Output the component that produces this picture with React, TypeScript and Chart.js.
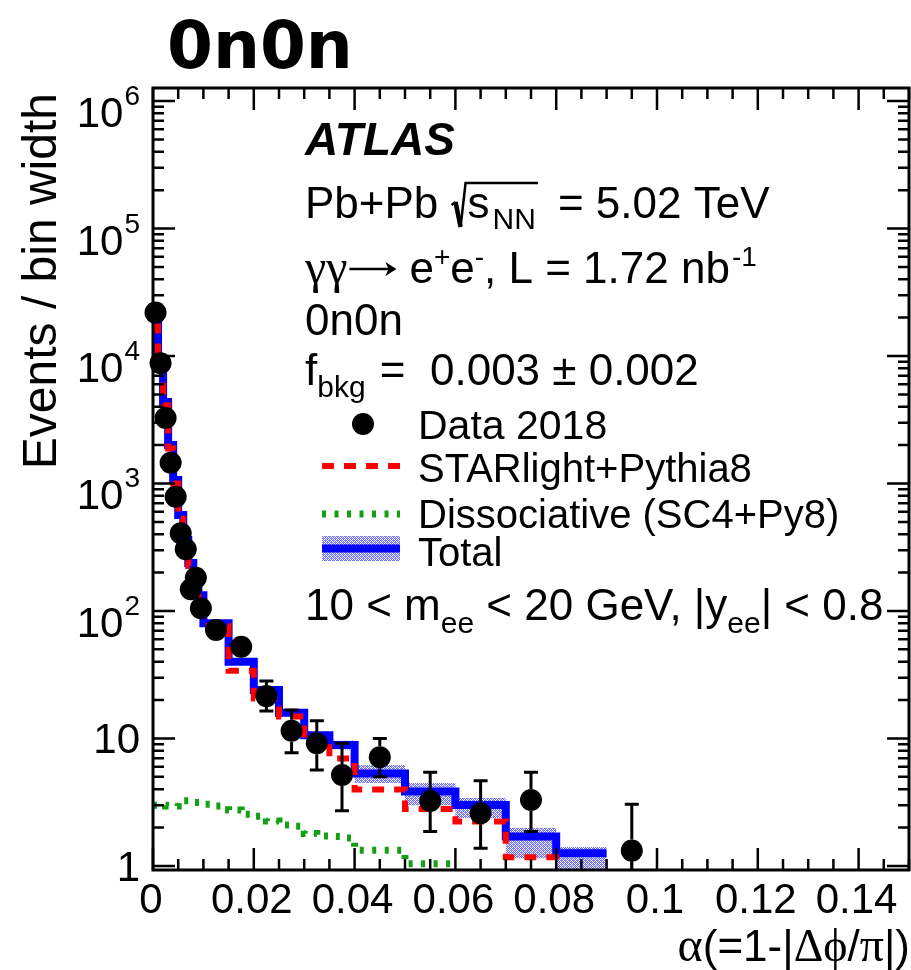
import React, { useEffect, useRef } from 'react';
import { Chart, registerables } from 'chart.js';

Chart.register(...registerables);

// ---------------- data ----------------
const binEdges = [0, 0.001, 0.002, 0.003, 0.004, 0.005, 0.006, 0.007, 0.008, 0.009, 0.01, 0.015, 0.02, 0.025, 0.03, 0.035, 0.04, 0.05, 0.06, 0.07, 0.08, 0.09];
const totalValues = [18000, 9300, 4360, 2000, 1065, 566, 360, 238, 160, 133, 80, 40, 24, 15.9, 10.6, 8.9, 5.31, 3.84, 3.01, 1.7, 1.26];
const totalBandLow = [17300, 8900, 4180, 1910, 1015, 540, 343, 226, 152, 126, 76, 37.8, 22.6, 14.9, 9.9, 8.2, 4.48, 3.0, 2.38, 1.15, 0.9];
const totalBandHigh = [18700, 9700, 4540, 2090, 1115, 592, 377, 250, 168, 140, 84, 42.2, 25.4, 16.9, 11.3, 9.6, 6.2, 4.48, 3.41, 1.99, 1.41];
const starlightValues = [17000, 8700, 4100, 1880, 1000, 530, 340, 225, 150, 125, 76, 34, 20.6, 14.9, 9.5, 6.97, 3.98, 2.8, 2.23, 1.17, 0.8];

const dissocEdges = [0, 0.0025, 0.005, 0.0075, 0.01, 0.0125, 0.015, 0.0175, 0.02, 0.0225, 0.025, 0.0275, 0.03, 0.0325, 0.035, 0.0375, 0.04, 0.05, 0.06];
const dissocValues = [3.0, 2.95, 3.25, 3.15, 3.05, 2.95, 2.75, 2.55, 2.45, 2.25, 2.1, 2.05, 1.8, 1.72, 1.7, 1.66, 1.33, 1.04];

const dataX = [0.0005, 0.0015, 0.0025, 0.0035, 0.0045, 0.0055, 0.0065, 0.0075, 0.0085, 0.0095, 0.0125, 0.0175, 0.0225, 0.0275, 0.0325, 0.0375, 0.045, 0.055, 0.065, 0.075, 0.095];
const dataY = [21900, 8770, 3260, 1455, 788, 407, 305, 148, 182, 105, 71, 52.5, 21.5, 11.5, 9.17, 5.17, 7.12, 3.23, 2.59, 3.29, 1.32];
const dataLow = [21750, 8680, 3200, 1415, 760, 387, 288, 136, 169, 95, 63, 45, 16.4, 7.74, 5.66, 2.71, 5.02, 1.86, 1.38, 1.86, 0.3];
const dataHigh = [22050, 8860, 3320, 1495, 816, 427, 322, 160, 195, 115, 79, 60, 28.3, 16.7, 13.8, 9.17, 10.0, 5.43, 4.67, 5.43, 3.05];

const xMajorTicks = [0, 0.02, 0.04, 0.06, 0.08, 0.1, 0.12, 0.14];
const xTickLabels = ['0', '0.02', '0.04', '0.06', '0.08', '0.1', '0.12', '0.14'];
const xMinorStep = 0.005;
const yDecades = [0, 1, 2, 3, 4, 5, 6];
const yTickLabels = ['1', '10', '10^2', '10^3', '10^4', '10^5', '10^6'];

const X_MIN = 0;
const X_MAX = 0.15;
const Y_MIN = 0.93;
const Y_MAX = 1.265e6;

const FONT = '"Liberation Sans", Arial, sans-serif';
const SERIF = '"Liberation Serif", "Times New Roman", serif';

function stepPoints(edges: number[], values: number[]) {
  const pts: { x: number; y: number }[] = [];
  for (let i = 0; i < values.length; i++) {
    pts.push({ x: edges[i], y: values[i] });
    pts.push({ x: edges[i + 1], y: values[i] });
  }
  return pts;
}

function makeHatch(): CanvasPattern | string {
  const c = document.createElement('canvas');
  c.width = 4;
  c.height = 4;
  const g = c.getContext('2d');
  if (!g) return 'rgba(120,120,255,0.6)';
  g.fillStyle = '#ffffff';
  g.fillRect(0, 0, 4, 4);
  g.fillStyle = '#6a6aff';
  g.fillRect(0, 0, 1, 1);
  g.fillRect(2, 0, 1, 1);
  g.fillRect(1, 1, 1, 1);
  g.fillRect(3, 1, 1, 1);
  g.fillRect(0, 2, 1, 1);
  g.fillRect(2, 2, 1, 1);
  g.fillRect(1, 3, 1, 1);
  g.fillRect(3, 3, 1, 1);
  g.fillStyle = '#9c9cff';
  g.fillRect(1, 0, 1, 1);
  g.fillRect(3, 2, 1, 1);
  const p = g.createPattern(c, 'repeat');
  return p || 'rgba(120,120,255,0.6)';
}

type Seg = { t: string; size?: number; dy?: number; style?: string; font?: string; gap?: number };

function drawRich(ctx: CanvasRenderingContext2D, x: number, y: number, segs: Seg[], base = 44) {
  let cx = x;
  for (const s of segs) {
    cx += s.gap ?? 0;
    if (!s.t) continue;
    const size = s.size ?? base;
    ctx.font = `${s.style ?? ''} ${size}px ${s.font ?? FONT}`;
    ctx.fillText(s.t, cx, y + (s.dy ?? 0));
    cx += ctx.measureText(s.t).width;
  }
  return cx;
}

export default function App() {
  const ref = useRef<HTMLCanvasElement | null>(null);

  useEffect(() => {
    const canvas = ref.current;
    if (!canvas) return;
    const hatch = makeHatch();
    const DATA_INDEX = 0;

    const errorBars = {
      id: 'errorBars',
      beforeDatasetDraw(chart: any, args: any) {
        if (args.index !== DATA_INDEX) return;
        const ctx: CanvasRenderingContext2D = chart.ctx;
        const xs = chart.scales.x;
        const ys = chart.scales.y;
        const area = chart.chartArea;
        const r = 11;
        ctx.save();
        ctx.beginPath();
        ctx.rect(area.left, area.top, area.right - area.left, area.bottom - area.top);
        ctx.clip();
        ctx.strokeStyle = '#000';
        ctx.lineWidth = 3;
        for (let i = 0; i < dataX.length; i++) {
          const px = xs.getPixelForValue(dataX[i]);
          const py = ys.getPixelForValue(dataY[i]);
          const pHi = ys.getPixelForValue(dataHigh[i]);
          const pLo = ys.getPixelForValue(Math.max(dataLow[i], 1e-3));
          ctx.beginPath();
          if (pHi < py - r) {
            ctx.moveTo(px, py - r);
            ctx.lineTo(px, pHi);
            ctx.moveTo(px - 7, pHi);
            ctx.lineTo(px + 7, pHi);
          }
          if (pLo > py + r) {
            ctx.moveTo(px, py + r);
            ctx.lineTo(px, pLo);
            ctx.moveTo(px - 7, pLo);
            ctx.lineTo(px + 7, pLo);
          }
          ctx.stroke();
        }
        ctx.restore();
      },
    };

    const frameAndText = {
      id: 'frameAndText',
      afterDraw(chart: any) {
        const ctx: CanvasRenderingContext2D = chart.ctx;
        const xs = chart.scales.x;
        const ys = chart.scales.y;
        const a = chart.chartArea;
        ctx.save();
        ctx.strokeStyle = '#000';
        ctx.fillStyle = '#000';
        // frame
        ctx.lineWidth = 3;
        ctx.strokeRect(a.left, a.top, a.right - a.left, a.bottom - a.top);
        // x ticks
        ctx.lineWidth = 2.5;
        ctx.beginPath();
        const nMinor = Math.round((X_MAX - X_MIN) / xMinorStep);
        for (let i = 0; i <= nMinor; i++) {
          const v = X_MIN + i * xMinorStep;
          const isMajor = Math.abs(v / 0.02 - Math.round(v / 0.02)) < 1e-6;
          const len = isMajor ? 22 : 11;
          const px = xs.getPixelForValue(v);
          ctx.moveTo(px, a.bottom);
          ctx.lineTo(px, a.bottom - len);
          ctx.moveTo(px, a.top);
          ctx.lineTo(px, a.top + len);
        }
        // y ticks
        for (const k of yDecades) {
          for (let m = 1; m <= 9; m++) {
            const v = m * Math.pow(10, k);
            if (v < Y_MIN || v > Y_MAX) continue;
            const len = m === 1 ? 22 : 11;
            const py = ys.getPixelForValue(v);
            ctx.moveTo(a.left, py);
            ctx.lineTo(a.left + len, py);
            ctx.moveTo(a.right, py);
            ctx.lineTo(a.right - len, py);
          }
        }
        ctx.stroke();

        // x tick labels
        ctx.font = `42px ${FONT}`;
        ctx.textAlign = 'center';
        ctx.textBaseline = 'alphabetic';
        xMajorTicks.forEach((v, i) => {
          ctx.fillText(xTickLabels[i], xs.getPixelForValue(v) - 2, 913);
        });

        // y tick labels
        ctx.textAlign = 'left';
        yDecades.forEach((k, i) => {
          const py = ys.getPixelForValue(Math.pow(10, k));
          const lab = yTickLabels[i];
          const right = 140;
          if (lab.indexOf('^') < 0) {
            ctx.font = `42px ${FONT}`;
            const w = ctx.measureText(lab).width;
            ctx.fillText(lab, right - w, py + 15);
          } else {
            const [b, e] = lab.split('^');
            ctx.font = `28px ${FONT}`;
            const we = ctx.measureText(e).width;
            ctx.font = `42px ${FONT}`;
            const wb = ctx.measureText(b).width;
            ctx.fillText(b, right - we - wb - 1, py + 26);
            ctx.font = `28px ${FONT}`;
            ctx.fillText(e, right - we, py + 4);
          }
        });

        // axis titles
        ctx.save();
        ctx.font = `48px ${FONT}`;
        ctx.translate(56, 93);
        ctx.rotate(-Math.PI / 2);
        ctx.textAlign = 'right';
        ctx.fillText('Events / bin width', 0, 0);
        ctx.restore();

        ctx.textAlign = 'left';
        {
          const segs: Seg[] = [
            { t: '\u03b1', font: SERIF, size: 48 },
            { t: '(=1-|' },
            { t: '\u0394', font: SERIF, size: 46 },
            { t: '\u03d5', font: SERIF, size: 46 },
            { t: '/' },
            { t: '\u03c0', font: SERIF, size: 48 },
            { t: '|)' },
          ];
          let w = 0;
          for (const s of segs) {
            ctx.font = `${s.size ?? 44}px ${s.font ?? FONT}`;
            w += ctx.measureText(s.t).width;
          }
          drawRich(ctx, 910 - w, 961, segs, 44);
        }

        // big title
        ctx.textAlign = 'left';
        ctx.font = `bold 66px "DejaVu Sans", sans-serif`;
        ctx.fillText('0n0n', 167, 68);

        // text block
        const tx = 305;
        ctx.font = `italic bold 46px ${FONT}`;
        ctx.fillText('ATLAS', tx, 155);

        const by = 218;
        const cx = drawRich(ctx, tx, by, [{ t: 'Pb+Pb ' }]);
        // sqrt sign
        ctx.lineWidth = 2.5;
        ctx.beginPath();
        ctx.moveTo(cx + 1, by - 13);
        ctx.lineTo(cx + 5, by - 16);
        ctx.stroke();
        ctx.lineWidth = 4.5;
        ctx.beginPath();
        ctx.moveTo(cx + 5, by - 16);
        ctx.lineTo(cx + 10, by + 9);
        ctx.stroke();
        ctx.lineWidth = 2.5;
        ctx.beginPath();
        ctx.moveTo(cx + 10, by + 9);
        ctx.lineTo(cx + 15, by - 35);
        const sEnd = drawRich(ctx, cx + 17, by, [{ t: 's' }, { t: 'NN', size: 30, dy: 11, gap: 3 }]);
        ctx.lineTo(sEnd + 2, by - 35);
        ctx.stroke();
        drawRich(ctx, sEnd, by, [{ t: '= 5.02 TeV', gap: 22 }]);

        // gamma gamma line with a long arrow
        const gy = 283;
        let gx = drawRich(ctx, tx, gy, [{ t: '\u03b3\u03b3', font: SERIF, size: 48 }]);
        ctx.lineWidth = 2.5;
        ctx.beginPath();
        ctx.moveTo(gx + 2, gy - 14);
        ctx.lineTo(gx + 47, gy - 14);
        ctx.stroke();
        ctx.beginPath();
        ctx.moveTo(gx + 49, gy - 14);
        ctx.lineTo(gx + 38, gy - 21);
        ctx.lineTo(gx + 41, gy - 14);
        ctx.lineTo(gx + 38, gy - 7);
        ctx.closePath();
        ctx.fill();
        gx += 50;
        drawRich(ctx, gx, gy, [
          { t: 'e', gap: 12 },
          { t: '+', size: 28, dy: -17 },
          { t: 'e' },
          { t: '-', size: 28, dy: -17 },
          { t: ', L = 1.72 nb' },
          { t: '-1', size: 28, dy: -17, gap: 2 },
        ]);
        drawRich(ctx, tx, 335, [{ t: '0n0n' }]);
        drawRich(ctx, tx, 385, [
          { t: 'f' },
          { t: 'bkg', size: 30, dy: 12 },
          { t: ' =  0.003 \u00b1 0.002', gap: 2 },
        ]);

        // legend
        const lx0 = 322;
        const lx1 = 400;
        const ltx = 418;
        ctx.beginPath();
        ctx.arc(363, 424, 11, 0, Math.PI * 2);
        ctx.fill();
        drawRich(ctx, ltx, 439, [{ t: 'Data 2018' }], 41);

        ctx.save();
        ctx.strokeStyle = '#ff0000';
        ctx.lineWidth = 6;
        ctx.setLineDash([12, 10]);
        ctx.beginPath();
        ctx.moveTo(lx0, 466);
        ctx.lineTo(lx1, 466);
        ctx.stroke();
        ctx.strokeStyle = '#11a011';
        ctx.lineWidth = 7;
        ctx.setLineDash([4, 8.5]);
        ctx.beginPath();
        ctx.moveTo(lx0, 514);
        ctx.lineTo(lx1, 514);
        ctx.stroke();
        ctx.setLineDash([]);
        ctx.fillStyle = hatch as any;
        ctx.fillRect(lx0, 536, lx1 - lx0, 25);
        ctx.strokeStyle = '#0000ff';
        ctx.lineWidth = 8;
        ctx.beginPath();
        ctx.moveTo(lx0, 548.5);
        ctx.lineTo(lx1, 548.5);
        ctx.stroke();
        ctx.restore();
        ctx.fillStyle = '#000';
        drawRich(ctx, ltx, 482, [{ t: 'STARlight+Pythia8' }], 40);
        drawRich(ctx, ltx, 528, [{ t: 'Dissociative (SC4+Py8)' }], 40);
        drawRich(ctx, ltx, 566, [{ t: 'Total' }], 40);

        drawRich(ctx, tx, 620, [
          { t: '10 < m' },
          { t: 'ee', size: 30, dy: 13 },
          { t: ' < 20 GeV, |y' },
          { t: 'ee', size: 30, dy: 13 },
          { t: '| < 0.8' },
        ]);
        ctx.restore();
      },
    };

    const chart = new Chart(canvas, {
      type: 'line',
      data: {
        datasets: [
          {
            label: 'Data 2018',
            data: dataX.map((x, i) => ({ x, y: dataY[i] })),
            showLine: false,
            pointRadius: 11,
            pointHoverRadius: 11,
            pointBackgroundColor: '#000',
            pointBorderColor: '#000',
            pointBorderWidth: 0,
            borderColor: '#000',
            backgroundColor: '#000',
            clip: false as any,
            order: 0,
          },
          {
            label: 'STARlight+Pythia8',
            data: stepPoints(binEdges, starlightValues),
            borderColor: '#ff0000',
            borderWidth: 6,
            borderDash: [12, 10],
            borderCapStyle: 'butt',
            borderJoinStyle: 'miter',
            pointRadius: 0,
            fill: false,
            tension: 0,
            clip: 0 as any,
            order: 1,
          },
          {
            label: 'Dissociative (SC4+Py8)',
            data: stepPoints(dissocEdges, dissocValues),
            borderColor: '#11a011',
            borderWidth: 7,
            borderDash: [4, 8.5],
            borderCapStyle: 'butt',
            pointRadius: 0,
            fill: false,
            tension: 0,
            clip: 0 as any,
            order: 2,
          },
          {
            label: 'Total',
            data: stepPoints(binEdges, totalValues),
            borderColor: '#0000ff',
            borderWidth: 8,
            borderJoinStyle: 'miter',
            pointRadius: 0,
            fill: false,
            tension: 0,
            clip: 0 as any,
            order: 3,
          },
          {
            label: 'bandHigh',
            data: stepPoints(binEdges, totalBandHigh),
            borderWidth: 0,
            borderColor: 'rgba(0,0,0,0)',
            backgroundColor: hatch as any,
            pointRadius: 0,
            fill: '+1',
            tension: 0,
            clip: 0 as any,
            order: 4,
          },
          {
            label: 'bandLow',
            data: stepPoints(binEdges, totalBandLow),
            borderWidth: 0,
            borderColor: 'rgba(0,0,0,0)',
            pointRadius: 0,
            fill: false,
            tension: 0,
            clip: 0 as any,
            order: 5,
          },
        ],
      },
      options: {
        responsive: false,
        animation: false,
        devicePixelRatio: 1,
        parsing: false as any,
        normalized: true,
        layout: { padding: { left: 153, top: 88, right: 4.25, bottom: 100 } },
        scales: {
          x: { type: 'linear', min: X_MIN, max: X_MAX, display: false },
          y: { type: 'logarithmic', min: Y_MIN, max: Y_MAX, display: false },
        },
        plugins: {
          legend: { display: false },
          tooltip: { enabled: false },
          title: { display: false },
        },
        events: [],
      },
      plugins: [errorBars, frameAndText],
    });

    return () => {
      chart.destroy();
    };
  }, []);

  return (
    <div style={{ position: 'fixed', left: 0, top: 0, width: 911, height: 970, overflow: 'hidden', background: '#fff' }}>
      <canvas ref={ref} width={920} height={970} style={{ display: 'block', width: 920, height: 970 }} />
    </div>
  );
}
